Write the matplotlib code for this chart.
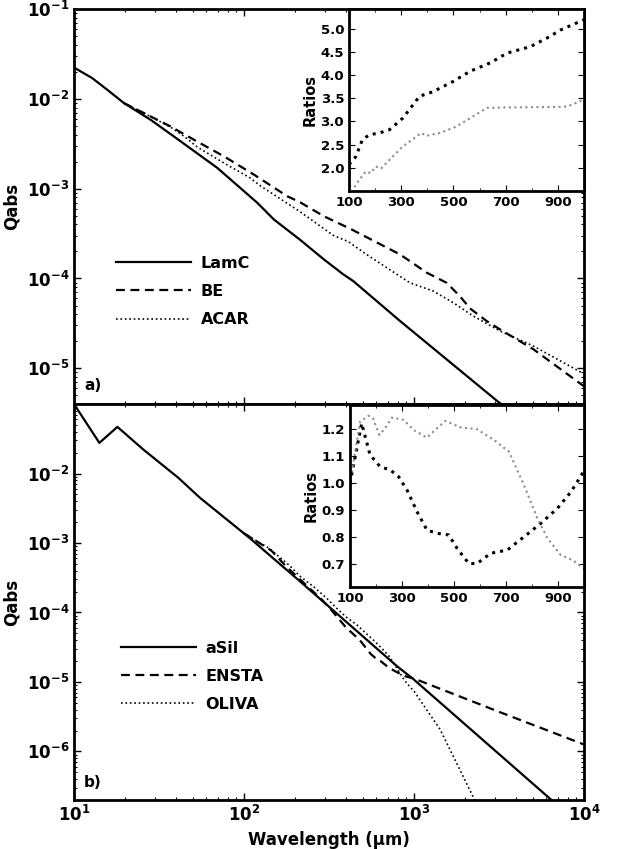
import matplotlib
matplotlib.use("Agg")
import numpy as np
from matplotlib import pyplot as plt
from matplotlib.ticker import LogLocator, NullFormatter, MultipleLocator

plt.rcParams['font.family'] = ['DejaVu Sans']
plt.rcParams['font.weight'] = 'bold'
plt.rcParams['axes.labelweight'] = 'bold'
plt.rcParams['mathtext.default'] = 'bf'

# panel a) carbon grains
lamc_wl = [10, 12.8, 15.7, 19.7, 28.2, 38.7, 69.7, 120, 150, 213, 295, 384, 440, 828, 3130, 4000]
lamc_q = [2.23e-2, 1.70e-2, 1.26e-2, 8.95e-3, 5.85e-3, 3.81e-3, 1.70e-3, 6.93e-4, 4.53e-4,
          2.71e-4, 1.63e-4, 1.11e-4, 9.33e-5, 3.36e-5, 4.23e-6, 2.95e-6]
be_wl = [19.7, 24.7, 37.0, 50.8, 76.2, 114.6, 179.9, 213, 295, 425, 828, 1189, 1556, 1862,
         2133, 2673, 3206, 5035, 10000]
be_q = [8.95e-3, 7.23e-3, 4.92e-3, 3.50e-3, 2.29e-3, 1.43e-3, 8.22e-4, 7.08e-4, 4.93e-4,
        3.55e-4, 1.85e-4, 1.16e-4, 8.95e-5, 6.35e-5, 4.65e-5, 3.36e-5, 2.71e-5, 1.63e-5, 6.3e-6]
acar_wl = [19.7, 24.7, 37.0, 44.7, 53.2, 76.2, 108.4, 125.3, 213, 335, 411, 526, 946, 1300,
           1702, 2234, 3206, 5035, 9683, 10000]
acar_q = [8.95e-3, 7.23e-3, 4.84e-3, 3.80e-3, 2.90e-3, 1.93e-3, 1.32e-3, 1.07e-3, 5.56e-4,
          3.02e-4, 2.57e-4, 1.85e-4, 8.95e-5, 7.23e-5, 5.37e-5, 3.81e-5, 2.60e-5, 1.77e-5,
          8.95e-6, 8.7e-6]

# panel b) silicate grains
asil_wl = [10, 14.1, 18.0, 25.6, 41.1, 55.1, 108.4, 213, 335, 791, 991, 6310, 8000]
asil_q = [0.1, 2.76e-2, 4.69e-2, 2.21e-2, 8.67e-3, 4.47e-3, 1.17e-3, 2.82e-4, 1.07e-4,
          1.70e-5, 1.10e-5, 2.09e-7, 1.26e-7]
ensta_wl = [100, 145, 177, 216, 287, 319, 358, 396, 480, 512, 557, 589, 641, 705, 769, 834,
            898, 1000, 3162, 10000]
ensta_q = [1.38e-3, 7.76e-4, 4.60e-4, 2.92e-4, 1.53e-4, 1.16e-4, 8.30e-5, 6.17e-5, 4.00e-5,
           3.27e-5, 2.52e-5, 2.24e-5, 1.97e-5, 1.63e-5, 1.44e-5, 1.30e-5, 1.20e-5, 1.12e-5,
           3.72e-6, 1.26e-6]
oliva_wl = [100, 139, 171, 188, 213, 261, 306, 345, 396, 467, 525, 589, 654, 711, 769, 821,
            860, 911, 1000, 1422, 2234, 2512]
oliva_q = [1.38e-3, 8.53e-4, 5.61e-4, 4.57e-4, 3.34e-4, 2.27e-4, 1.61e-4, 1.20e-4, 8.73e-5,
           6.47e-5, 4.93e-5, 3.83e-5, 2.95e-5, 2.38e-5, 1.79e-5, 1.38e-5, 1.15e-5, 9.44e-6,
           7.36e-6, 2.09e-6, 2.19e-7, 1.12e-7]

# inset ratios
be_ratio_wl = [100, 126, 151, 177, 216, 255, 306, 370, 422, 499, 564, 641, 705, 795, 860, 911, 1000]
be_ratio = [2.07, 2.24, 2.60, 2.71, 2.75, 2.82, 3.07, 3.54, 3.64, 3.86, 4.08, 4.26, 4.47, 4.61,
            4.80, 4.97, 5.19]
acar_ratio_wl = [100, 120, 139, 164, 183, 203, 222, 255, 306, 377, 396, 448, 512, 564, 628, 705,
                 898, 937, 1000]
acar_ratio = [1.60, 1.58, 1.74, 1.92, 1.885, 2.03, 1.98, 2.17, 2.46, 2.75, 2.69, 2.75, 2.89, 3.07,
              3.29, 3.30, 3.31, 3.32, 3.47]
ensta_ratio_wl = [100, 145, 177, 216, 255, 287, 319, 358, 396, 435, 480, 512, 557, 589, 641, 705,
                  769, 834, 898, 950, 1000]
ensta_ratio = [1.0, 1.222, 1.105, 1.061, 1.049, 1.024, 0.975, 0.894, 0.826, 0.814, 0.808, 0.758,
               0.702, 0.702, 0.74, 0.752, 0.801, 0.851, 0.907, 0.968, 1.045]
oliva_ratio_wl = [100, 139, 171, 188, 213, 235, 261, 306, 345, 396, 435, 467, 525, 589, 654, 711,
                  769, 821, 860, 911, 956, 1000]
oliva_ratio = [1.0, 1.228, 1.25, 1.241, 1.179, 1.204, 1.243, 1.235, 1.197, 1.169, 1.204, 1.231,
               1.207, 1.2, 1.16, 1.117, 0.993, 0.869, 0.795, 0.733, 0.715, 0.684]

fig = plt.figure(figsize=(6.25, 8.49), dpi=100)
ax1 = fig.add_axes([0.1184, 0.5241, 0.816, 0.4653])
ax2 = fig.add_axes([0.1184, 0.0577, 0.816, 0.4664])


def style_main(ax):
    ax.set_xscale('log')
    ax.set_yscale('log')
    ax.set_xlim(10, 1e4)
    ax.tick_params(which='both', direction='in', top=True, right=True, labelsize=12)
    ax.tick_params(which='major', length=5, width=1)
    ax.tick_params(which='minor', length=2.5, width=0.8)
    ax.yaxis.set_minor_locator(LogLocator(base=10, subs=np.arange(2, 10), numticks=20))
    ax.yaxis.set_minor_formatter(NullFormatter())
    for s in ax.spines.values():
        s.set_linewidth(2)
    ax.set_ylabel('Qabs', fontsize=12)


style_main(ax1)
ax1.plot(lamc_wl, lamc_q, 'k-', lw=1.6, label='LamC')
ax1.plot(be_wl, be_q, 'k', lw=1.6, dashes=(4, 2.5), label='BE')
ax1.plot(acar_wl, acar_q, 'k:', lw=1.2, label='ACAR')
ax1.set_ylim(4e-6, 0.1)
ax1.set_yticks([1e-5, 1e-4, 1e-3, 1e-2, 1e-1])
ax1.tick_params(labelbottom=False)
ax1.text(0.02, 0.035, 'a)', transform=ax1.transAxes, fontsize=11, fontweight='bold')
ax1.legend(loc='upper left', bbox_to_anchor=(0.082, 0.375), frameon=False,
           fontsize=11.5, handlelength=4.7, handletextpad=0.6, labelspacing=0.82,
           borderpad=0, borderaxespad=0)

style_main(ax2)
ax2.plot(asil_wl, asil_q, 'k-', lw=1.6, label='aSil')
ax2.plot(ensta_wl, ensta_q, 'k', lw=1.6, dashes=(4, 2.5), label='ENSTA')
ax2.plot(oliva_wl, oliva_q, 'k:', lw=1.2, label='OLIVA')
ax2.set_ylim(2e-7, 0.1)
ax2.set_yticks([1e-6, 1e-5, 1e-4, 1e-3, 1e-2])
ax2.set_xlabel('Wavelength (\u03bcm)', fontsize=12)
ax2.text(0.02, 0.033, 'b)', transform=ax2.transAxes, fontsize=11, fontweight='bold')
ax2.legend(loc='upper left', bbox_to_anchor=(0.092, 0.402), frameon=False,
           fontsize=11.5, handlelength=4.7, handletextpad=0.6, labelspacing=0.82,
           borderpad=0, borderaxespad=0)


def style_inset(ax):
    ax.set_xlim(100, 1000)
    ax.set_xticks([100, 300, 500, 700, 900])
    ax.xaxis.set_minor_locator(MultipleLocator(100))
    ax.tick_params(which='both', direction='in', top=True, right=True, labelsize=9.5)
    ax.tick_params(which='major', length=4, width=0.8)
    ax.tick_params(which='minor', length=2, width=0.6)
    for s in ax.spines.values():
        s.set_linewidth(2)
    ax.set_ylabel('Ratios', fontsize=10.5, labelpad=2)


ins1 = fig.add_axes([0.5584, 0.775, 0.376, 0.2144])
style_inset(ins1)
ins1.plot(be_ratio_wl, be_ratio, color='k', ls=':', lw=2.2)
ins1.plot(acar_ratio_wl, acar_ratio, color='0.55', ls=':', lw=1.5)
ins1.set_ylim(1.5, 5.42)
ins1.set_yticks([2.0, 2.5, 3.0, 3.5, 4.0, 4.5, 5.0])

ins2 = fig.add_axes([0.56, 0.3086, 0.3744, 0.2144])
style_inset(ins2)
ins2.plot(ensta_ratio_wl, ensta_ratio, color='k', ls=':', lw=2.2)
ins2.plot(oliva_ratio_wl, oliva_ratio, color='0.55', ls=':', lw=1.5)
ins2.set_ylim(0.615, 1.29)
ins2.set_yticks([0.7, 0.8, 0.9, 1.0, 1.1, 1.2])

fig.savefig('out.png', dpi=100)
